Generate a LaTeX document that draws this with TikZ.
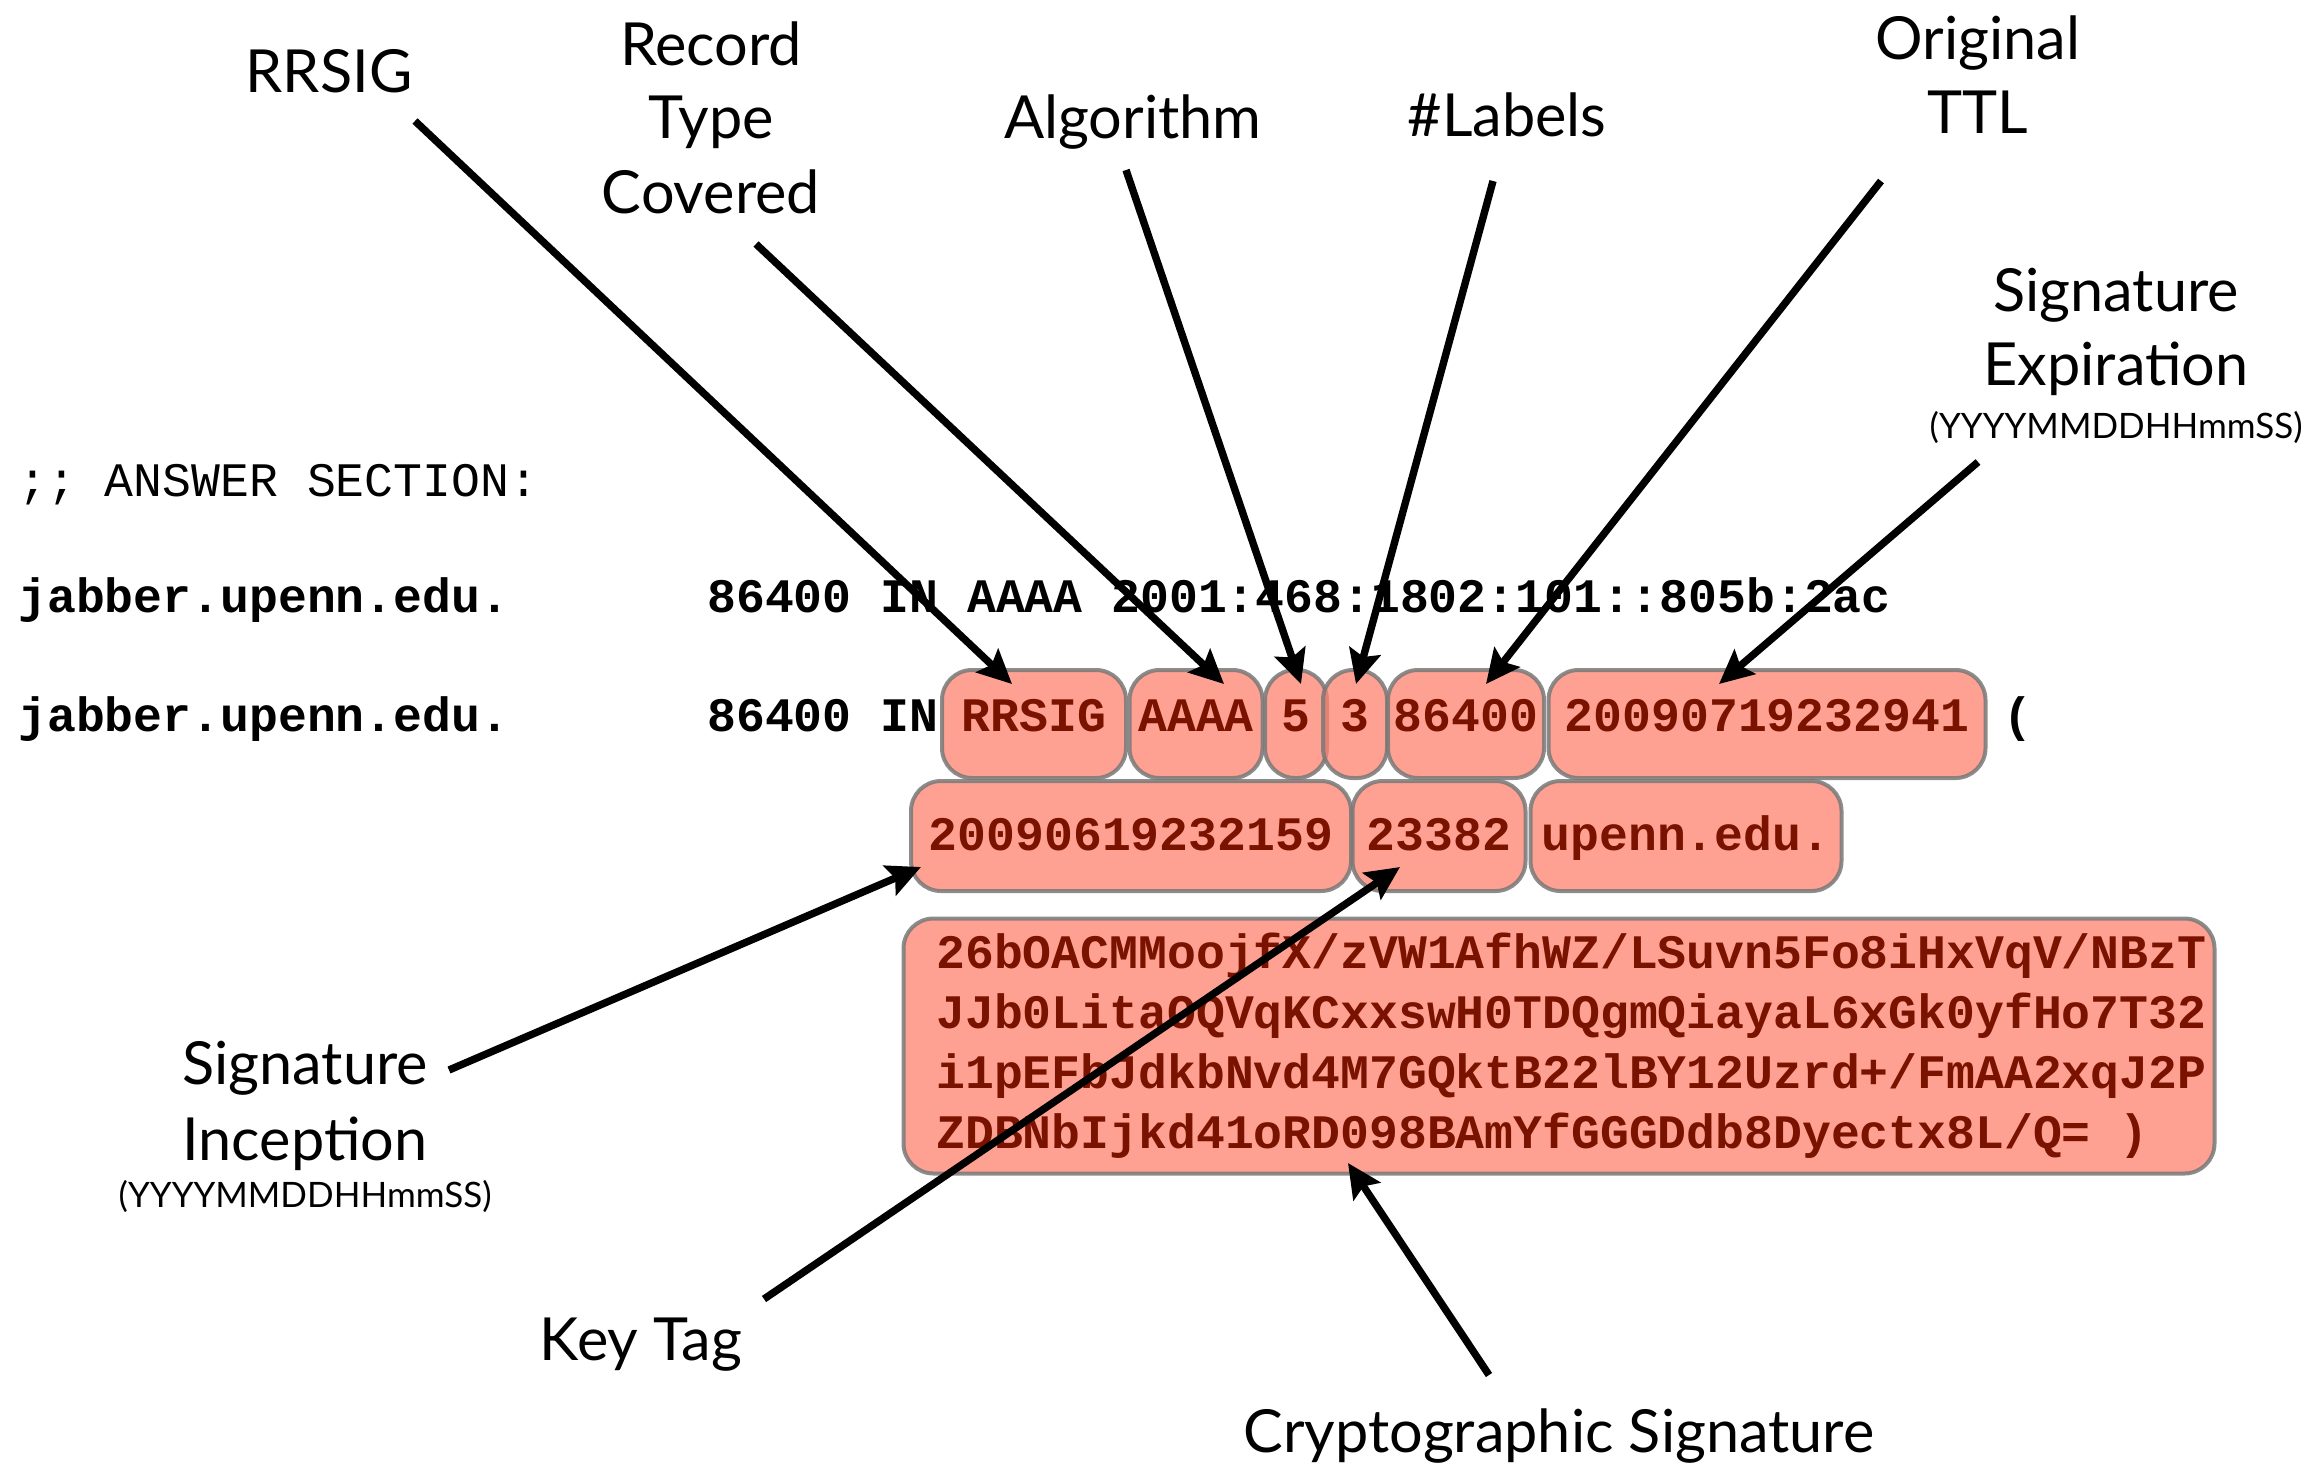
\documentclass[tikz,border=0pt]{standalone}
\usepackage{fontspec}
\setmainfont{Lato}
\newfontfamily\cour{Liberation Mono}
\usetikzlibrary{arrows.meta}
\definecolor{tokfill}{RGB}{255,130,110}
\definecolor{tokdraw}{RGB}{120,120,120}
\definecolor{toktext}{RGB}{122,18,0}
\begin{document}
\begin{tikzpicture}[x=0.5pt,y=-0.5pt,
  lab/.style={font=\fontsize{29.7}{37}\selectfont, inner sep=0, anchor=base},
  smalllab/.style={font=\fontsize{17.5}{20}\selectfont, inner sep=0, anchor=base},
  mono/.style={font=\fontsize{24.05}{30}\selectfont\cour\bfseries, anchor=base west, inner sep=0},
  monoreg/.style={font=\fontsize{24.05}{30}\selectfont\cour, anchor=base west, inner sep=0},
  tok/.style={draw=tokdraw, draw opacity=0.85, line width=2pt, fill=tokfill, fill opacity=0.75, text opacity=1,
    rounded corners=15pt, text=toktext, font=\fontsize{24.05}{30}\selectfont\cour\bfseries,
    text height=14pt, text depth=7pt, inner xsep=0, inner ysep=0},
  rowa/.style={tok, minimum height=54pt},
  rowb/.style={tok, minimum height=55pt, text height=14pt, text depth=0pt},
  sigline/.style={mono, text=toktext},
  ptr/.style={line width=3.7pt, -{Stealth[length=17pt,width=16pt,inset=3pt]}}]
\useasboundingbox (0,0) rectangle (2323,1468);

% boxes row 1
\node[rowa, minimum width=92pt]  (brrsig) at (1034,724) {RRSIG};
\node[rowa, minimum width=66.5pt] (baaaa) at (1196,724) {AAAA};
\node[rowa, minimum width=31pt]  (bfive) at (1296,724) {5};
\node[rowa, minimum width=32pt]  (bthree) at (1355,724) {3};
\node[rowa, minimum width=78pt]  (bttl) at (1466,724) {86400};
\node[rowa, minimum width=218.5pt] (bexp) at (1767,724) {20090719232941};
% boxes row 2
\node[rowb, minimum width=220pt] (binc) at (1131,836) {20090619232159};
\node[rowb, minimum width=86.5pt] (bkey) at (1439,836) {23382};
\node[rowb, minimum width=155.5pt] (bsigner) at (1686,836) {upenn.edu.};
% signature box
\node[tok, minimum width=655.5pt, minimum height=127.5pt] (bsig) at (1559,1046) {};
\node[sigline] (s1) at (936,968)  {26bOACMMoojfX/zVW1AfhWZ/LSuvn5Fo8iHxVqV/NBzT};
\node[sigline] (s2) at (936,1028) {JJb0LitaOQVqKCxxswH0TDQgmQiayaL6xGk0yfHo7T32};
\node[sigline] (s3) at (936,1088) {i1pEFbJdkbNvd4M7GQktB22lBY12Uzrd+/FmAA2xqJ2P};
\node[sigline] (s4) at (936,1148) {ZDBNbIjkd41oRD098BAmYfGGGDdb8Dyectx8L/Q= )};

% plain text lines
\node[monoreg] (ans) at (18,496) {;; ANSWER SECTION:};
\node[mono] (n1) at (18,612) {jabber.upenn.edu.};
\node[mono] (r1) at (707,612) {86400 IN AAAA 2001:468:1802:101::805b:2ac};
\node[mono] (n2) at (18,731) {jabber.upenn.edu.};
\node[mono] (r2) at (707,731) {86400 IN};
\node[mono] (paren) at (2003,731) {(};

% labels
\node[lab] (lrrsig) at (329,92) {RRSIG};
\node[lab] (lrec1) at (711,65) {Record};
\node[lab] (lrec2) at (711,138) {Type};
\node[lab] (lrec3) at (711,213) {Covered};
\node[lab] (lalg) at (1133,138) {Algorithm};
\node[lab] (llab) at (1507,136) {\#Labels};
\node[lab] (lttl1) at (1978,59) {Original};
\node[lab] (lttl2) at (1978,133) {TTL};
\node[lab] (lexp1) at (2116,311) {Signature};
\node[lab] (lexp2) at (2116,385) {Expiration};
\node[smalllab] (lexp3) at (2116,438) {(YYYYMMDDHHmmSS)};
\node[lab] (linc1) at (305,1084) {Signature};
\node[lab] (linc2) at (305,1160) {Inception};
\node[smalllab] (linc3) at (305,1207) {(YYYYMMDDHHmmSS)};
\node[lab] (lkey) at (641,1360) {Key Tag};
\node[lab] (lcrypto) at (1559,1452) {Cryptographic Signature};

% arrow ends
\coordinate (a1s) at (415,121);  \coordinate (a1e) at (1012,684);
\coordinate (a2s) at (756,244);  \coordinate (a2e) at (1224,684);
\coordinate (a3s) at (1126,170); \coordinate (a3e) at (1301,684);
\coordinate (a4s) at (1493,181); \coordinate (a4e) at (1356,684);
\coordinate (a5s) at (1881,181); \coordinate (a5e) at (1486,684);
\coordinate (a6s) at (1978,462); \coordinate (a6e) at (1719,684);
\coordinate (a7s) at (449,1070); \coordinate (a7e) at (921,867);
\coordinate (a8s) at (764,1299); \coordinate (a8e) at (1400,867);
\coordinate (a9s) at (1489,1375); \coordinate (a9e) at (1348,1163);

\draw[ptr] (a1s) -- (a1e);
\draw[ptr] (a2s) -- (a2e);
\draw[ptr] (a3s) -- (a3e);
\draw[ptr] (a4s) -- (a4e);
\draw[ptr] (a5s) -- (a5e);
\draw[ptr] (a6s) -- (a6e);
\draw[ptr] (a7s) -- (a7e);
\draw[ptr] (a8s) -- (a8e);
\draw[ptr] (a9s) -- (a9e);
\end{tikzpicture}
\end{document}
